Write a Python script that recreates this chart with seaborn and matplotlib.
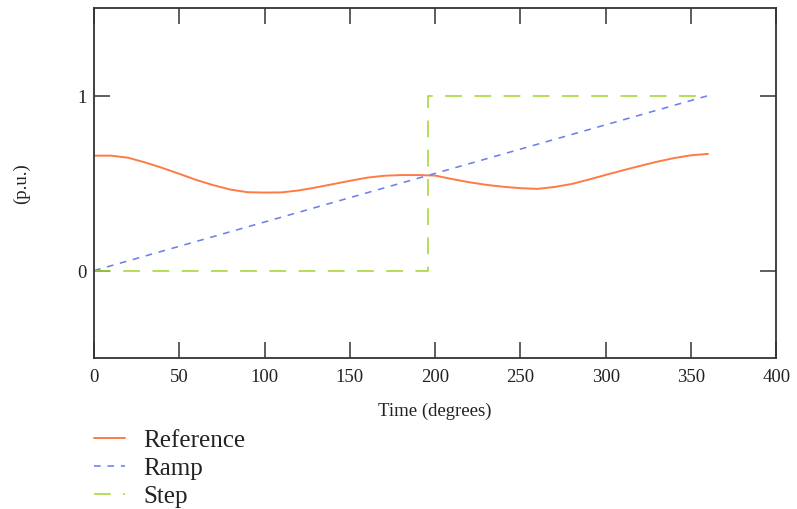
import numpy as np
import pandas as pd
import matplotlib
matplotlib.use("Agg")
import matplotlib.pyplot as plt
import seaborn as sns

# Reference waveform (p.u.) sampled every 10 degrees
ref_deg = [0, 10, 20, 30, 40, 50, 60, 70, 80, 90, 100, 110, 120, 130, 140, 150,
           160, 170, 180, 190, 200, 210, 220, 230, 240, 250, 260, 270, 280, 290,
           300, 310, 320, 330, 340, 350, 360]
ref_val = [0.657, 0.657, 0.645, 0.618, 0.587, 0.553, 0.518, 0.488, 0.463, 0.448,
           0.446, 0.447, 0.458, 0.475, 0.494, 0.513, 0.531, 0.542, 0.546, 0.546,
           0.543, 0.523, 0.505, 0.490, 0.479, 0.471, 0.467, 0.478, 0.495, 0.520,
           0.547, 0.573, 0.598, 0.622, 0.643, 0.659, 0.667]

# Ramp signal
ramp_deg = [0, 360]
ramp_val = [0.0, 1.0]

# Step signal
step_deg = [0, 196, 196, 360]
step_val = [0.0, 0.0, 1.0, 1.0]

x_ticks = [0, 50, 100, 150, 200, 250, 300, 350, 400]
y_ticks = [0, 1]

sns.set_style("white")
plt.rcParams["font.family"] = ["Liberation Serif", "DejaVu Serif"]

fig = plt.figure(figsize=(7.97, 5.10), dpi=100)
ax = fig.add_axes([0.118, 0.296, 0.856, 0.686])

c_ref = "#FF7A45"
c_ramp = "#6F80E6"
c_step = "#A5D535"
lw = 1.15

sns.lineplot(x=ref_deg, y=ref_val, ax=ax, color=c_ref, lw=1.4,
             estimator=None, sort=False, label="Reference")
sns.lineplot(x=ramp_deg, y=ramp_val, ax=ax, color=c_ramp, lw=lw,
             estimator=None, sort=False, label="Ramp", dashes=False)
sns.lineplot(x=step_deg, y=step_val, ax=ax, color=c_step, lw=lw,
             estimator=None, sort=False, label="Step", dashes=False)

lines = ax.get_lines()
lines[1].set_dashes((4.2, 4.2))
lines[2].set_dashes((10.5, 7.8))

ax.set_xlim(0, 400)
ax.set_ylim(-0.5, 1.5)

ax.set_xticks(x_ticks)
ax.set_yticks(y_ticks)
ax.tick_params(axis="both", direction="in", length=11.5, width=1.1,
               color="#333333", labelsize=13.5, labelcolor="#222222")
ax.tick_params(axis="x", pad=7, top=True, bottom=True)
ax.tick_params(axis="y", pad=5, left=True, right=True)

for s in ax.spines.values():
    s.set_color("#333333")
    s.set_linewidth(1.3)

ax.set_xlabel("Time (degrees)", fontsize=13.5, color="#222222", labelpad=12)
ax.set_ylabel("(p.u.)", fontsize=13.5, color="#222222")
ax.yaxis.set_label_coords(-0.093, 0.5)

handles, labels = ax.get_legend_handles_labels()
ax.get_legend().remove()
fig.legend(handles, labels, loc="upper left", bbox_to_anchor=(0.1175, 0.157),
           frameon=False, fontsize=18, handlelength=1.25, handletextpad=0.72,
           labelspacing=0.22, borderaxespad=0, borderpad=0,
           labelcolor="#222222")

fig.savefig("out.png", dpi=100, facecolor="white")
